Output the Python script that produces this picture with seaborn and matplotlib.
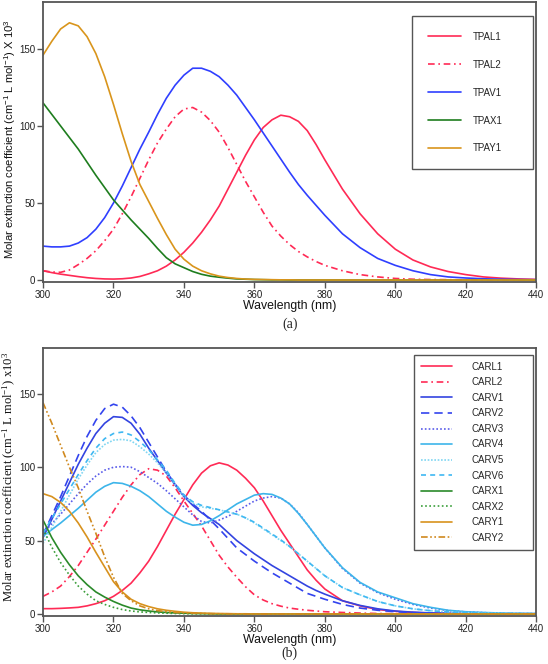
import numpy as np
import pandas as pd
import matplotlib
matplotlib.use("Agg")
import matplotlib.pyplot as plt
import seaborn as sns
from matplotlib.lines import Line2D

# ---------------- data ----------------
WAVELENGTH = [300, 302.5, 305, 307.5, 310, 312.5, 315, 317.5, 320, 322.5, 325, 327.5, 330,
              332.5, 335, 337.5, 340, 342.5, 345, 347.5, 350, 352.5, 355, 357.5, 360, 362.5,
              365, 367.5, 370, 372.5, 375, 377.5, 380,
              385, 390, 395, 400, 405, 410, 415, 420, 425, 430, 435, 440]

# panel (a)
NAMES_A = ["TPAL1", "TPAL2", "TPAV1", "TPAX1", "TPAY1"]
TPAL1 = [6, 4.8, 3.8, 3.0, 2.2, 1.5, 1.0, 0.7, 0.6, 0.8, 1.3, 2.3, 4, 6, 9, 13, 18, 24, 31, 39,
         48, 59, 70, 81, 91, 99, 104, 107, 106, 103, 97, 88, 78,
         59, 43, 30, 20, 13, 8.5, 5.5, 3.5, 2, 1.2, 0.7, 0.4]
TPAL2 = [6, 5.2, 5, 6.5, 10, 14, 19, 25.5, 33, 43, 54, 66, 78, 89, 98, 106, 111, 112, 109, 103.5,
         96, 86, 75, 64, 54, 44, 35, 28.5, 23, 18.5, 15, 12, 9.5,
         6, 3.5, 2, 1, 0.5, 0.3, 0.2, 0.1, 0.1, 0.1, 0.1, 0.1]
TPAV1 = [22, 21.5, 21.5, 22, 24, 27.5, 33, 40.5, 50, 61, 73, 85, 96, 107.5, 118, 126.5, 133,
         137.5, 137.5, 135.5, 132, 126.5, 120, 112, 104, 95.5, 87, 78.5, 70, 62, 55, 48.5, 42,
         30, 21, 14, 9.5, 6, 3.5, 2, 1.3, 0.8, 0.5, 0.3, 0.2]
TPAX1 = [115, 107.5, 100, 92.5, 85, 76.5, 68, 60, 52, 45.5, 39, 33, 27, 20.5, 14.5, 10.5, 8,
         5.5, 3.7, 2.5, 1.8, 1.2, 0.7, 0.5, 0.3, 0.2, 0.1, 0.1, 0, 0, 0, 0, 0,
         0, 0, 0, 0, 0, 0, 0, 0, 0, 0, 0, 0]
TPAY1 = [146, 155, 163, 167, 165, 158, 147, 132, 114, 95, 77, 62, 51, 40, 29.5, 20, 13.5, 9,
         6, 4, 2.5, 1.6, 1, 0.6, 0.4, 0.3, 0.2, 0.1, 0.1, 0, 0, 0, 0,
         0, 0, 0, 0, 0, 0, 0, 0, 0, 0, 0, 0]

# panel (b)
NAMES_B = ["CARL1", "CARL2", "CARV1", "CARV2", "CARV3", "CARV4", "CARV5", "CARV6",
           "CARX1", "CARX2", "CARY1", "CARY2"]
CARL1 = [3.6, 3.6, 3.8, 4.1, 4.5, 5.5, 7, 9, 12, 16, 21, 28, 36, 46, 57, 68, 78, 88, 96, 101,
         103, 101.5, 98, 92.5, 86, 77, 67, 57, 48, 39, 30, 23, 17,
         9, 5.5, 3, 1.8, 1, 0.6, 0.4, 0.3, 0.2, 0.1, 0.1, 0.1]
CARL2 = [12, 15, 19, 25.5, 33, 42, 51, 60.5, 70, 79.5, 88, 95, 99, 98, 94, 86, 77, 68.5, 60, 50,
         40, 32, 25, 18.5, 13, 9.5, 7, 5.3, 4, 3.2, 2.5, 2, 1.5,
         1, 0.6, 0.3, 0.2, 0.1, 0.1, 0, 0, 0, 0, 0, 0]
CARV1 = [52, 64.5, 77, 89.5, 102, 113, 123, 130, 134.5, 134, 130, 122.5, 113, 104.5, 96, 88, 80,
         74, 69, 65, 61, 55.5, 50, 45.5, 41, 37, 33, 29.5, 26, 22.5, 19, 16, 13.5,
         9, 5.8, 3.5, 2, 1.2, 0.7, 0.4, 0.3, 0.2, 0.1, 0.1, 0.1]
CARV2 = [54, 67, 80, 94, 108, 121, 132, 140, 143, 141, 135, 127, 117, 107, 97, 88.5, 81, 75, 70,
         64, 58, 51.5, 45, 40.5, 36, 32, 28, 24.5, 21, 17.5, 14, 12, 10,
         6.5, 4, 2.5, 1.5, 0.9, 0.5, 0.3, 0.2, 0.1, 0.1, 0.1, 0.1]
CARV3 = [55, 61.5, 68, 75, 82, 88.5, 94, 98, 100, 100.5, 100, 97, 93, 89, 84, 78.5, 73, 67.5,
         63, 62, 64, 66.5, 70, 73.5, 77, 79, 80, 79, 75, 69, 61, 53, 45,
         31, 21, 14.5, 10, 6.5, 4, 2.3, 1.4, 0.9, 0.5, 0.3, 0.2]
CARV4 = [53, 57.5, 62, 67, 72, 77.5, 83, 87, 89.5, 89, 87, 84, 80, 75, 70, 66, 62.5, 60.5, 61,
         63.5, 67, 71, 75, 78, 81, 82, 81.5, 79, 75, 68.5, 61, 53, 45,
         31.5, 21.5, 15, 11, 7, 4.5, 2.5, 1.5, 1, 0.6, 0.4, 0.3]
CARV5 = [48, 59, 70, 81, 92, 101.5, 110, 115.5, 118.5, 119, 118, 114, 109, 103, 96, 88, 80,
         75.5, 73, 72, 71, 69.5, 68, 65.5, 62, 58, 54, 50, 46, 41, 36, 31, 26,
         18, 13, 8.5, 5.5, 3.5, 2.2, 1.4, 0.9, 0.6, 0.4, 0.3, 0.2]
CARV6 = [55, 65, 75, 85, 95, 104.5, 113, 119.5, 123, 124, 122, 117.5, 112, 105, 98, 89, 81,
         76.5, 74, 72.5, 71, 69.5, 68, 65.5, 62.5, 58.5, 54.5, 50.5, 46, 41, 36, 31, 26,
         18, 13, 8.5, 5.5, 3.5, 2.2, 1.4, 0.9, 0.6, 0.4, 0.3, 0.2]
CARX1 = [64, 52, 42, 33.5, 26, 20, 15, 11.5, 8.5, 6, 4, 2.8, 2, 1.4, 1, 0.7, 0.5, 0.3, 0.2, 0.1,
         0, 0, 0, 0, 0, 0, 0, 0, 0, 0, 0, 0, 0,
         0, 0, 0, 0, 0, 0, 0, 0, 0, 0, 0, 0]
CARX2 = [58, 45.5, 35, 26.5, 19, 13.5, 9, 6.5, 4.5, 3, 2, 1.4, 1, 0.7, 0.5, 0.3, 0.2, 0.1, 0.1, 0,
         0, 0, 0, 0, 0, 0, 0, 0, 0, 0, 0, 0, 0,
         0, 0, 0, 0, 0, 0, 0, 0, 0, 0, 0, 0]
CARY1 = [82, 80, 76, 70, 62, 52.5, 42, 32, 22, 15, 10, 7, 5, 3.5, 2.5, 1.8, 1.2, 0.8, 0.6, 0.4,
         0.3, 0.2, 0.1, 0.1, 0, 0, 0, 0, 0, 0, 0, 0, 0,
         0, 0, 0, 0, 0, 0, 0, 0, 0, 0, 0, 0]
CARY2 = [144, 130, 115, 100, 86, 70, 55, 39, 25, 14, 9, 5.5, 3.5, 2.3, 1.5, 1, 0.7, 0.5, 0.3, 0.2,
         0.1, 0.1, 0, 0, 0, 0, 0, 0, 0, 0, 0, 0, 0,
         0, 0, 0, 0, 0, 0, 0, 0, 0, 0, 0, 0]

X_TICKS = [300, 320, 340, 360, 380, 400, 420, 440]
Y_TICKS = [0, 50, 100, 150]

# ---------------- styles ----------------
RED = "#FF2A55"
STY_A = {
    "TPAL1": (RED, ""),
    "TPAL2": (RED, (4, 2.2, 1, 2.2)),
    "TPAV1": ("#2F3FFF", ""),
    "TPAX1": ("#1E7D1E", ""),
    "TPAY1": ("#D9951C", ""),
}
STY_B = {
    "CARL1": (RED, ""),
    "CARL2": (RED, (4, 2.2, 1, 2.2)),
    "CARV1": ("#3344E0", ""),
    "CARV2": ("#3344EE", (5, 3)),
    "CARV3": ("#5A5CEA", (1, 1.3)),
    "CARV4": ("#3DB5EA", ""),
    "CARV5": ("#80D6F2", (1, 1)),
    "CARV6": ("#3FB8F2", (3, 2.5)),
    "CARX1": ("#2A8A2A", ""),
    "CARX2": ("#3A9E3A", (1, 1.5)),
    "CARY1": ("#D8921E", ""),
    "CARY2": ("#D0891E", (4, 1.5, 1, 1.5, 1, 1.5)),
}

sns.set_theme(style="ticks")
plt.rcParams["font.family"] = ["Liberation Sans", "DejaVu Sans"]
plt.rcParams["mathtext.default"] = "regular"

LW = 1.2
SERIF = ["Liberation Serif", "DejaVu Serif"]


def make_df(names, series):
    rows = []
    for n, s in zip(names, series):
        assert len(s) == len(WAVELENGTH), n
        for x, y in zip(WAVELENGTH, s):
            rows.append((x, y, n))
    return pd.DataFrame(rows, columns=["Wavelength", "Value", "Series"])


def draw(ax, names, series, sty):
    df = make_df(names, series)
    sns.lineplot(data=df, x="Wavelength", y="Value", hue="Series", style="Series",
                 hue_order=names, style_order=names,
                 palette={n: sty[n][0] for n in names},
                 dashes={n: sty[n][1] for n in names},
                 linewidth=LW, legend=False, estimator=None, ax=ax)
    ax.set_xlim(300, 440)
    ax.set_xticks(X_TICKS)
    ax.set_yticks(Y_TICKS)
    for sp in ax.spines.values():
        sp.set_visible(True)
        sp.set_color("#555555")
        sp.set_linewidth(1.3)
    ax.tick_params(direction="out", length=4, width=1, color="#555555",
                   labelsize=7, pad=1.5, labelcolor="#222222")
    handles = []
    for n in names:
        c, d = sty[n]
        ls = "-" if d == "" else (0, d)
        handles.append(Line2D([0], [0], color=c, lw=LW, linestyle=ls))
    return handles


fig = plt.figure(figsize=(5.48, 6.64), dpi=100)
axA = fig.add_axes([0.0785, 0.5753, 0.900, 0.4217])
axB = fig.add_axes([0.0785, 0.0723, 0.900, 0.4036])

hA = draw(axA, NAMES_A, [TPAL1, TPAL2, TPAV1, TPAX1, TPAY1], STY_A)
axA.set_ylim(-1.3, 180.5)
hB = draw(axB, NAMES_B, [CARL1, CARL2, CARV1, CARV2, CARV3, CARV4, CARV5, CARV6,
                         CARX1, CARX2, CARY1, CARY2], STY_B)
axB.set_ylim(-1.4, 181.3)

axA.set_xlabel("Wavelength (nm)", fontsize=8.8, labelpad=0.3, color="#111111")
axA.set_ylabel("Molar extinction coefficient (cm$^{-1}$ L mol$^{-1}$) X 10$^{3}$",
               fontsize=8.1, color="#111111")
axA.yaxis.set_label_coords(-0.05, 0.51)

axB.set_xlabel("Wavelength (nm)", fontsize=8.8, labelpad=0.3, color="#111111")
axB.set_ylabel("Molar extinction coefficient (cm$^{-1}$ L mol$^{-1}$) x10$^{3}$",
               fontsize=9.1, family=SERIF, color="#111111")
axB.yaxis.set_label_coords(-0.05, 0.52)

legA = axA.legend(hA, NAMES_A, loc="upper left", bbox_to_anchor=(0.7485, 0.95, 0.2454, 0.0),
                  mode="expand", fontsize=7, frameon=True, fancybox=False,
                  edgecolor="#555555", framealpha=1, borderpad=1.6, labelspacing=1.85,
                  handlelength=3.4, handletextpad=1.2, borderaxespad=0)
legA.get_frame().set_linewidth(1.0)

legB = axB.legend(hB, NAMES_B, loc="upper left", bbox_to_anchor=(0.7525, 0.974, 0.2414, 0.0),
                  mode="expand", fontsize=7, frameon=True, fancybox=False,
                  edgecolor="#555555", framealpha=1, borderpad=0.7, labelspacing=0.57,
                  handlelength=3.2, handletextpad=2.0, borderaxespad=0)
legB.get_frame().set_linewidth(1.0)

fig.text(0.529, 1 - 324 / 664, "(a)", ha="center", va="center", fontsize=10, family=SERIF)
fig.text(0.529, 1 - 653 / 664, "(b)", ha="center", va="center", fontsize=10, family=SERIF)

fig.savefig("out.png", dpi=100)
